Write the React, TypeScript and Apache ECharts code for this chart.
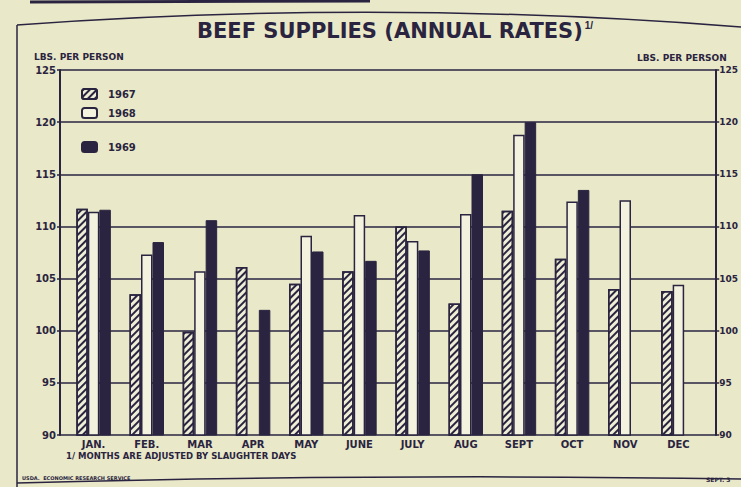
import React, { useEffect, useRef } from "react";
import * as echarts from "echarts";

const months = ["JAN.", "FEB.", "MAR", "APR", "MAY", "JUNE", "JULY", "AUG", "SEPT", "OCT", "NOV", "DEC"];
const y1967 = [111.7, 103.5, 99.9, 106.1, 104.5, 105.7, 110.0, 102.6, 111.5, 106.9, 104.0, 103.8];
const y1968 = [111.4, 107.3, 105.7, null, 109.1, 111.1, 108.6, 111.2, 118.8, 112.4, 112.5, 104.4];
const y1969 = [111.6, 108.5, 110.6, 102.0, 107.6, 106.7, 107.7, 115.0, 120.0, 113.5, null, null];
const yMin = 90;
const yMax = 125;
const yStep = 5;

const INK = "#2a2440";
const PAPER = "#e9e8c8";
const FONT = "'DejaVu Sans', sans-serif";

export default function App() {
  const ref = useRef<HTMLDivElement>(null);
  useEffect(() => {
    if (!ref.current) return;
    const chart = echarts.init(ref.current, null, { renderer: "svg" });
    const hatch = {
      symbol: "rect",
      symbolSize: 1,
      dashArrayX: [[1, 0]],
      dashArrayY: [1.6, 2.4],
      rotation: -Math.PI / 4,
      color: INK,
    };
    const barBase = {
      type: "bar",
      xAxisIndex: 1,
      yAxisIndex: 2,
      barWidth: 11.5,
      barGap: "0%",
      z: 5,
    };
    const legendText = { color: INK, fontWeight: "bold", fontSize: 10, fontFamily: FONT, padding: [0, 0, 0, 6] };
    chart.setOption({
      animation: false,
      backgroundColor: PAPER,
      textStyle: { fontFamily: FONT, color: INK },
      grid: [
        { left: 60, right: 24, top: 70, height: 365 },
        { left: 67, right: 36, top: 70, height: 365 },
      ],
      xAxis: [
        { type: "value", gridIndex: 0, min: 0, max: 1, show: false },
        {
          type: "category",
          gridIndex: 1,
          data: months,
          axisLine: { show: false },
          axisTick: { show: false },
          axisLabel: { color: INK, fontWeight: "bold", fontSize: 10, margin: 4, fontFamily: FONT },
        },
      ],
      yAxis: [
        {
          type: "value",
          gridIndex: 0,
          position: "left",
          min: yMin,
          max: yMax,
          interval: yStep,
          axisLine: { show: true, lineStyle: { color: INK, width: 2 } },
          axisTick: { show: true, length: 3, lineStyle: { color: INK, width: 1.5 } },
          axisLabel: { color: INK, fontWeight: "bold", fontSize: 10, margin: 4, fontFamily: FONT },
          splitLine: { show: true, lineStyle: { color: INK, width: 1.6 } },
        },
        {
          type: "value",
          gridIndex: 0,
          position: "right",
          min: yMin,
          max: yMax,
          interval: yStep,
          axisLine: { show: true, lineStyle: { color: INK, width: 2 } },
          axisTick: { show: true, length: 3, lineStyle: { color: INK, width: 1.5 } },
          axisLabel: { color: INK, fontWeight: "bold", fontSize: 9, margin: 3, fontFamily: FONT },
          splitLine: { show: false },
        },
        { type: "value", gridIndex: 1, min: yMin, max: yMax, interval: yStep, show: false },
      ],
      legend: [
        { data: ["1967"], left: 76, top: 83, itemWidth: 15, itemHeight: 10, textStyle: legendText },
        { data: ["1968"], left: 76, top: 102, itemWidth: 15, itemHeight: 10, textStyle: legendText },
        { data: ["1969"], left: 76, top: 136, itemWidth: 15, itemHeight: 10, textStyle: legendText },
      ],
      series: [
        {
          ...barBase,
          name: "1967",
          data: y1967,
          itemStyle: { color: "#efeed6", borderColor: INK, borderWidth: 1.5, decal: hatch },
        },
        {
          ...barBase,
          name: "1968",
          data: y1968,
          itemStyle: { color: "#f3f2df", borderColor: INK, borderWidth: 1.5 },
        },
        {
          ...barBase,
          name: "1969",
          data: y1969,
          itemStyle: { color: INK, borderColor: INK, borderWidth: 1 },
        },
      ],
      graphic: [
        { type: "line", shape: { x1: 30, y1: 2, x2: 370, y2: 1 }, style: { stroke: INK, lineWidth: 3 } },
        {
          type: "bezierCurve",
          shape: { x1: 17, y1: 25, x2: 741, y2: 27, cpx1: 250, cpy1: 8, cpx2: 500, cpy2: 8 },
          style: { stroke: INK, lineWidth: 1.5, fill: null },
        },
        { type: "line", shape: { x1: 17, y1: 25, x2: 17, y2: 487 }, style: { stroke: INK, lineWidth: 1.5 } },
        {
          type: "bezierCurve",
          shape: { x1: 17, y1: 483, x2: 741, y2: 479, cpx1: 250, cpy1: 477, cpx2: 500, cpy2: 475 },
          style: { stroke: INK, lineWidth: 1.5, fill: null },
        },
        {
          type: "text",
          left: 197,
          top: 20,
          style: {
            text: "BEEF SUPPLIES (ANNUAL RATES){s|1/}",
            font: `900 21px ${FONT}`,
            fill: INK,
            rich: { s: { fontSize: 10, fontWeight: "bold", verticalAlign: "top", padding: [0, 0, 12, 2], fill: INK } },
          },
        },
        {
          type: "text",
          left: 34,
          top: 52,
          style: { text: "LBS. PER PERSON", font: `bold 9px ${FONT}`, fill: INK },
        },
        {
          type: "text",
          left: 637,
          top: 53,
          style: { text: "LBS. PER PERSON", font: `bold 9px ${FONT}`, fill: INK },
        },
        {
          type: "text",
          left: 66,
          top: 451,
          style: { text: "1/ MONTHS ARE ADJUSTED BY SLAUGHTER DAYS", font: `bold 8.5px ${FONT}`, fill: INK },
        },
        {
          type: "text",
          left: 22,
          top: 475,
          style: { text: "USDA.  ECONOMIC RESEARCH SERVICE", font: `bold 5px ${FONT}`, fill: INK },
        },
        {
          type: "text",
          left: 706,
          top: 476,
          style: { text: "SEPT. 3", font: `bold 6px ${FONT}`, fill: INK },
        },
      ],
    });
    return () => chart.dispose();
  }, []);
  return <div ref={ref} style={{ width: 741, height: 487, position: "fixed", left: 0, top: 0 }} />;
}
